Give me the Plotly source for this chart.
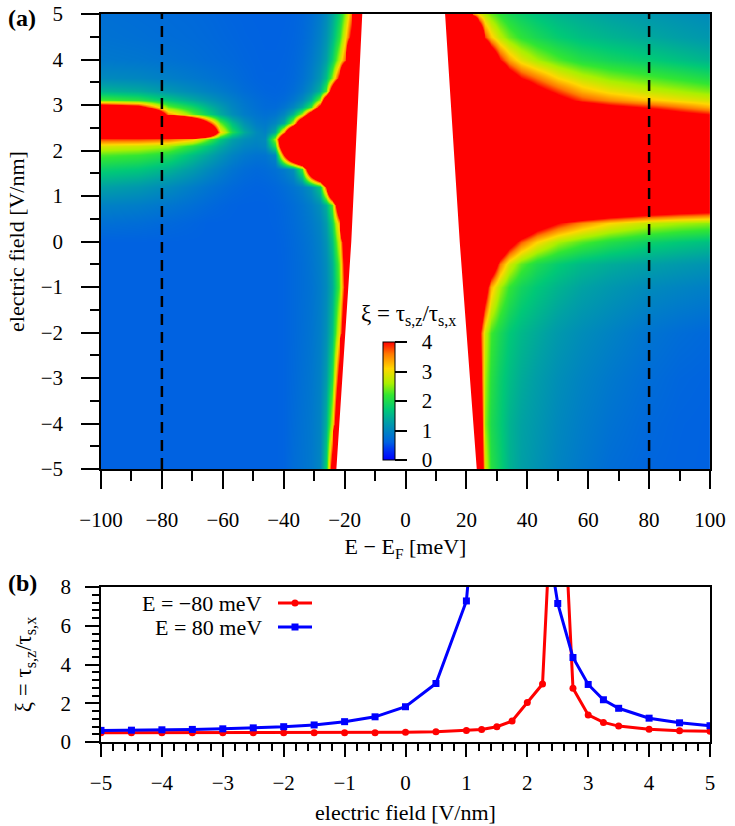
import plotly.graph_objects as go

# ---------------- panel (a): xi(E, field) map ----------------
field_rows = [-5, -4, -3, -2, -1, -0.5, 0, 0.4, 0.8, 1.2, 1.6, 1.9, 2.1, 2.25,
              2.4, 2.6, 2.8, 2.95, 3.1, 3.3, 3.6, 4.0, 4.5, 5.0]

energy_left = [-100, -88, -78, -70, -65, -61, -57, -53, -49, -46, -43, -40,
               -37, -34, -31, -28, -26, -24, -22, -20, -18, -16, -14, -12]
energy_right = [10, 12, 14, 16, 18, 20, 22, 24, 26, 28, 31, 34, 38, 43, 50,
                58, 67, 80, 90, 100]

R = 30.0  # xi far above the colour range (saturated red)

xi_left = [
    [0.6]*11 + [0.62, 0.72, 0.78, 0.85, 1.0, 1.8, 4.6] + [R]*6,             # -5
    [0.6]*11 + [0.62, 0.7, 0.77, 0.84, 0.98, 1.45, 2.8, 6] + [R]*5,         # -4
    [0.6]*11 + [0.62, 0.68, 0.75, 0.82, 0.95, 1.25, 2.0, 4.4] + [R]*5,      # -3
    [0.6]*11 + [0.62, 0.67, 0.73, 0.8, 0.92, 1.12, 1.6, 3.0, 5.5] + [R]*4,  # -2
    [0.6]*11 + [0.62, 0.67, 0.72, 0.78, 0.9, 1.05, 1.4, 2.3, 4.3] + [R]*4,  # -1
    [0.6]*11 + [0.62, 0.67, 0.72, 0.8, 0.92, 1.08, 1.45, 2.4, 4.6] + [R]*4, # -0.5
    [0.6]*11 + [0.63, 0.68, 0.74, 0.82, 0.95, 1.15, 1.6, 2.8, 5] + [R]*4,   # 0
    [0.75, 0.72, 0.67, 0.63] + [0.6]*6 +
    [0.61, 0.65, 0.7, 0.77, 0.86, 1.0, 1.25, 1.85, 3.4, 10] + [R]*4,        # 0.4
    [0.95, 0.9, 0.82, 0.74, 0.68, 0.64, 0.61, 0.6, 0.6, 0.6, 0.62, 0.66,
     0.72, 0.8, 0.92, 1.12, 1.45, 2.3, 5.5, 10] + [R]*4,                     # 0.8
    [1.3, 1.2, 1.05, 0.9, 0.8, 0.74, 0.68, 0.64, 0.62, 0.63, 0.66, 0.72,
     0.8, 0.92, 1.15, 1.7, 4.0, 8, 12] + [R]*5,                              # 1.2
    [1.8, 1.7, 1.5, 1.25, 1.05, 0.92, 0.8, 0.72, 0.68, 0.7, 0.76, 0.88,
     1.1, 2.2, 6, 9, 12, 15] + [R]*6,                                        # 1.6
    [2.3, 2.2, 2.0, 1.6, 1.35, 1.15, 0.97, 0.85, 0.79, 0.8, 1.0, 4.0,
     7, 9, 11, 14] + [R]*8,                                                  # 1.9
    [2.9, 2.8, 2.6, 2.1, 1.7, 1.4, 1.15, 0.99, 0.93, 1.0, 2.0, 6, 8, 10,
     12, 15] + [R]*8,                                                        # 2.1
    [3.8, 3.8, 3.7, 3.3, 2.4, 1.7, 1.3, 1.1, 1.0, 1.05, 2.6, 6.5, 8, 10,
     12, 15] + [R]*8,                                                        # 2.25
    [12, 12, 12, 10, 7, 3.2, 2.0, 1.4, 1.05, 0.95, 1.4, 3.5, 7, 9, 11,
     14] + [R]*8,                                                            # 2.4
    [12, 12, 11, 7, 4.2, 2.4, 1.6, 1.15, 0.9, 0.85, 1.0, 1.4, 2.8, 6, 9,
     12, 15] + [R]*7,                                                        # 2.6
    [10, 9, 3.5, 2.4, 1.8, 1.4, 1.1, 0.9, 0.8, 0.75, 0.8, 1.0, 1.5, 2.6,
     5, 8, 11, 14] + [R]*6,                                                  # 2.8
    [5, 4.5, 2.4, 1.9, 1.5, 1.25, 1.0, 0.85, 0.75, 0.7, 0.7, 0.8, 1.0, 1.4,
     2.2, 4.5, 7, 10, 13] + [R]*5,                                           # 2.95
    [2.3, 2.1, 1.7, 1.4, 1.2, 1.05, 0.92, 0.8, 0.72, 0.68, 0.66, 0.7, 0.82,
     1.05, 1.5, 2.6, 5.5, 8, 11] + [R]*5,                                    # 3.1
    [1.5, 1.4, 1.2, 1.05, 0.95, 0.88, 0.8, 0.72, 0.67, 0.64, 0.63, 0.65,
     0.72, 0.85, 1.1, 1.5, 2.3, 5, 8, 11] + [R]*4,                           # 3.3
    [1.05, 1.0, 0.92, 0.85, 0.8, 0.76, 0.72, 0.67, 0.63, 0.62, 0.62, 0.63,
     0.67, 0.76, 0.92, 1.2, 1.6, 2.5, 4.2, 8, 12] + [R]*3,                   # 3.6
    [0.85, 0.82, 0.78, 0.74, 0.71, 0.69, 0.67, 0.64, 0.62, 0.61, 0.61, 0.62,
     0.65, 0.72, 0.85, 1.05, 1.3, 1.8, 2.7, 3.7, 8, 12] + [R]*2,             # 4.0
    [0.78, 0.75, 0.72, 0.7, 0.68, 0.66, 0.64, 0.62, 0.61, 0.6, 0.6, 0.61,
     0.63, 0.68, 0.78, 0.95, 1.15, 1.5, 2.1, 3.0, 4.2, 9] + [R]*2,           # 4.5
    [0.75, 0.72, 0.7, 0.68, 0.66, 0.64, 0.62, 0.61, 0.6, 0.6, 0.6, 0.6,
     0.62, 0.66, 0.74, 0.88, 1.05, 1.35, 1.8, 2.5, 3.5, 8] + [R]*2,          # 5.0
]

xi_right = [
    [R]*7 + [6, 2.9, 2.1, 1.8, 1.5, 1.3, 1.15, 0.98, 0.85, 0.72, 0.64, 0.61, 0.6],     # -5
    [R]*7 + [5.5, 2.5, 2.0, 1.75, 1.5, 1.33, 1.2, 1.03, 0.9, 0.78, 0.67, 0.62, 0.6],   # -4
    [R]*6 + [12, 4.8, 2.6, 2.1, 1.8, 1.6, 1.42, 1.27, 1.1, 0.97, 0.85, 0.72, 0.65, 0.62],  # -3
    [R]*6 + [9, 4.3, 2.8, 2.25, 1.95, 1.72, 1.55, 1.4, 1.22, 1.08, 0.96, 0.8, 0.72, 0.67],  # -2
    [R]*5 + [20, 10, 6, 4.6, 3.3, 2.6, 2.2, 1.9, 1.7, 1.5, 1.33, 1.2, 1.05, 0.98, 0.92],   # -1
    [R]*5 + [25, 15, 9, 6.5, 5, 3.6, 2.85, 2.35, 2.0, 1.75, 1.55, 1.42, 1.3, 1.22, 1.15],  # -0.5
    [R]*5 + [25, 18, 12, 9, 7, 5.5, 4.5, 3.7, 3.1, 2.6, 2.3, 2.05, 1.82, 1.7, 1.6],        # 0
    [R]*5 + [30, 25, 20, 15, 12, 9, 7, 5.5, 4.6, 4.0, 3.5, 3.1, 2.75, 2.6, 2.5],          # 0.4
    [R]*8 + [25, 20, 15, 12, 10, 8, 7, 6.5, 6, 5.5, 5.2, 5.0],                           # 0.8
    [R]*10 + [25, 20, 15, 12, 10, 9, 8.5, 8, 7.5, 7.2],                                  # 1.2
    [R]*10 + [28, 24, 20, 16, 13, 11, 10, 9.5, 9, 8.5],                                  # 1.6
    [R]*10 + [28, 24, 20, 16, 13, 11, 10, 9.5, 9, 8.5],                                  # 1.9
    [R]*10 + [28, 24, 20, 16, 13, 11, 10, 9.5, 9, 8.5],                                  # 2.1
    [R]*10 + [28, 24, 20, 16, 13, 11, 10, 9.5, 9, 8.5],                                  # 2.25
    [R]*10 + [25, 20, 16, 13, 11, 9.5, 8.5, 7.5, 7, 6.6],                                # 2.4
    [R]*10 + [22, 18, 15, 12, 10, 8.5, 7.5, 6.5, 6, 5.6],                                # 2.6
    [R]*10 + [16, 13, 10, 8, 6.5, 5.5, 5.0, 4.6, 4.2, 3.95],                             # 2.8
    [R]*9 + [25, 18, 14, 10, 6.5, 5.2, 4.6, 4.2, 3.9, 3.6, 3.3],                         # 2.95
    [R]*8 + [20, 15, 11, 8.5, 6.5, 5.2, 4.3, 3.8, 3.5, 3.2, 3.0, 2.85],                  # 3.1
    [R]*8 + [15, 11, 8, 6.2, 5, 4.3, 3.8, 3.3, 3.0, 2.75, 2.6, 2.45],                    # 3.3
    [R]*6 + [25, 14, 10, 7.5, 5.8, 4.6, 4.0, 3.6, 3.1, 2.75, 2.5, 2.3, 2.15, 2.0],       # 3.6
    [R]*6 + [20, 12, 7, 5.2, 4.0, 3.4, 2.95, 2.6, 2.3, 2.05, 1.9, 1.75, 1.62, 1.5],      # 4.0
    [R]*5 + [20, 12, 6, 3.8, 3.2, 2.7, 2.4, 2.15, 1.95, 1.75, 1.6, 1.5, 1.38, 1.28, 1.2],  # 4.5
    [R]*5 + [8, 3.6, 3.0, 2.65, 2.4, 2.15, 1.95, 1.8, 1.65, 1.5, 1.4, 1.3, 1.2, 1.12, 1.05],  # 5.0
]

# band gap (no states): edges of the empty region
gap_field = [-5, 0, 5]
gap_left_edge = [-22.7, -17.8, -14.2]
gap_right_edge = [23.4, 17.8, 13.0]

cut_energies = [-80, 80]
cbar_ticks = [0, 1, 2, 3, 4]

# ---------------- panel (b): cuts at E = -80 and 80 meV ----------------
field_red = [-5, -4.5, -4, -3.5, -3, -2.5, -2, -1.5, -1, -0.5, 0, 0.5, 1, 1.25,
             1.5, 1.75, 2, 2.25, 2.5, 2.75, 3, 3.25, 3.5, 4, 4.5, 5]
xi_red = [0.48, 0.48, 0.48, 0.48, 0.48, 0.48, 0.48, 0.48, 0.48, 0.48, 0.5,
          0.53, 0.6, 0.65, 0.79, 1.08, 2.04, 2.99, 19, 2.77, 1.4, 1.01, 0.82,
          0.66, 0.58, 0.55]
field_blue = [-5, -4.5, -4, -3.5, -3, -2.5, -2, -1.5, -1, -0.5, 0, 0.5, 1, 1.5,
              2, 2.25, 2.5, 2.75, 3, 3.25, 3.5, 4, 4.5, 5]
xi_blue = [0.6, 0.61, 0.63, 0.65, 0.68, 0.73, 0.79, 0.88, 1.05, 1.3, 1.82,
           3.02, 7.28, 25, 40, 12, 7.15, 4.36, 2.97, 2.18, 1.74, 1.23, 0.99, 0.84]

legend_labels = ["E = \u221280 meV", "E = 80 meV"]

colorscale = [
    [0.0, "rgb(0,0,255)"],
    [0.1, "rgb(0,60,240)"],
    [0.15, "rgb(0,98,225)"],
    [0.225, "rgb(0,125,200)"],
    [0.325, "rgb(0,160,165)"],
    [0.425, "rgb(0,200,120)"],
    [0.55, "rgb(50,230,50)"],
    [0.65, "rgb(170,240,0)"],
    [0.775, "rgb(255,215,0)"],
    [0.9, "rgb(255,120,0)"],
    [1.0, "rgb(255,0,0)"],
]

FONT = "Liberation Serif, Times New Roman, Times, serif"
W, H = 735, 826
ML, MR, MT, MB = 101, 25, 14, 84
PW, PH = W - ML - MR, H - MT - MB


def px_x(px):
    return (px - ML) / PW


def px_y(py):
    return (H - MB - py) / PH


fig = go.Figure()
for ex, zz in ((energy_left, xi_left), (energy_right, xi_right)):
    fig.add_trace(go.Heatmap(x=ex, y=field_rows, z=zz, coloraxis="coloraxis",
                             zsmooth="best", hoverinfo="skip",
                             xaxis="x", yaxis="y"))

fig.add_trace(go.Scatter(x=gap_left_edge + gap_right_edge[::-1],
                         y=gap_field + gap_field[::-1], fill="toself",
                         fillcolor="white", mode="lines", line=dict(width=0),
                         hoverinfo="skip", showlegend=False,
                         xaxis="x", yaxis="y"))

fig.add_trace(go.Scatter(x=field_red, y=xi_red, mode="lines+markers",
                         line=dict(color="#ff0000", width=3),
                         marker=dict(symbol="circle", size=7, color="#ff0000"),
                         showlegend=False, xaxis="x2", yaxis="y2"))
fig.add_trace(go.Scatter(x=field_blue, y=xi_blue, mode="lines+markers",
                         line=dict(color="#0000ff", width=3),
                         marker=dict(symbol="square", size=7, color="#0000ff"),
                         showlegend=False, xaxis="x2", yaxis="y2"))

shapes = []
for e in cut_energies:
    shapes.append(dict(type="line", xref="x", yref="y domain", x0=e, x1=e,
                       y0=0, y1=1, line=dict(color="black", width=2.5,
                                             dash="11px,7px")))

# custom legend (text left of the line sample, as in the original)
leg_y = [px_y(603), px_y(627)]
leg_colors = ["#ff0000", "#0000ff"]
leg_syms = ["circle", "rect"]
annotations = []
for lab, yy, col, sym in zip(legend_labels, leg_y, leg_colors, leg_syms):
    annotations.append(dict(text=lab, xref="paper", yref="paper", x=px_x(264),
                            y=yy, xanchor="right", yanchor="middle",
                            showarrow=False,
                            font=dict(size=22, family=FONT)))
    shapes.append(dict(type="line", xref="paper", yref="paper", x0=px_x(278),
                       x1=px_x(312), y0=yy, y1=yy,
                       line=dict(color=col, width=3)))
    shapes.append(dict(type=sym, xref="paper", yref="paper",
                       xsizemode="pixel", ysizemode="pixel",
                       xanchor=px_x(295), yanchor=yy, x0=-3.5, x1=3.5,
                       y0=-3.5, y1=3.5, fillcolor=col, line=dict(width=0)))

annotations += [
    dict(text="<b>(a)</b>", xref="paper", yref="paper", x=px_x(22), y=px_y(18),
         showarrow=False, xanchor="center", yanchor="middle",
         font=dict(size=24, family=FONT)),
    dict(text="<b>(b)</b>", xref="paper", yref="paper", x=px_x(22), y=px_y(583),
         showarrow=False, xanchor="center", yanchor="middle",
         font=dict(size=24, family=FONT)),
    dict(text="\u03be = \u03c4<sub>s,z</sub>/\u03c4<sub>s,x</sub>", xref="paper",
         yref="paper", x=px_x(408), y=px_y(315), showarrow=False,
         xanchor="center", yanchor="middle", font=dict(size=23, family=FONT)),
]

tickfont = dict(family=FONT, size=21, color="black")
titlefont = dict(family=FONT, size=22, color="black")
axis_common = dict(showline=True, linecolor="black", linewidth=1.5,
                   mirror=True, showgrid=False, zeroline=False,
                   ticks="outside", tickcolor="black", tickwidth=1.5,
                   tickfont=tickfont, automargin=False)

top_bottom = px_y(469)
bot_top = px_y(587)

fig.update_layout(
    width=W, height=H,
    margin=dict(l=ML, r=MR, t=MT, b=MB, autoexpand=False),
    paper_bgcolor="white", plot_bgcolor="white",
    font=dict(family=FONT, size=21, color="black"),
    showlegend=False,
    xaxis=dict(domain=[0, 1], anchor="y", range=[-100, 100], dtick=20,
               tick0=0, ticklen=18, ticklabelstandoff=13,
               minor=dict(dtick=10, ticklen=10, ticks="outside",
                          tickcolor="black", tickwidth=1.5),
               title=dict(text="E \u2212 E<sub>F</sub> [meV]", standoff=8,
                          font=titlefont),
               **axis_common),
    yaxis=dict(domain=[top_bottom, 1], anchor="x", range=[-5, 5], dtick=1,
               ticklen=18, ticklabelstandoff=14,
               minor=dict(dtick=0.5, ticklen=9, ticks="outside",
                          tickcolor="black", tickwidth=1.5),
               title=dict(text="electric field [V/nm]", standoff=10,
                          font=titlefont),
               **axis_common),
    xaxis2=dict(domain=[0, 1], anchor="y2", range=[-5, 5], dtick=1,
                ticklen=13, ticklabelstandoff=8,
                minor=dict(dtick=0.2, ticklen=7, ticks="outside",
                           tickcolor="black", tickwidth=1.5),
                title=dict(text="electric field [V/nm]", standoff=11,
                           font=titlefont),
                **axis_common),
    yaxis2=dict(domain=[0, bot_top], anchor="x2", range=[0, 8], dtick=2,
                ticklen=14, ticklabelstandoff=10,
                minor=dict(dtick=0.4, ticklen=7, ticks="outside",
                           tickcolor="black", tickwidth=1.5),
                title=dict(text="\u03be = \u03c4<sub>s,z</sub>/\u03c4<sub>s,x</sub>",
                           standoff=22, font=dict(family=FONT, size=23,
                                                  color="black")),
                **axis_common),
    coloraxis=dict(cmin=0, cmax=4, colorscale=colorscale,
                   colorbar=dict(x=px_x(383), xanchor="left", xref="paper",
                                 y=px_y(460), yanchor="bottom", yref="paper",
                                 len=118, lenmode="pixels", thickness=12,
                                 xpad=0, ypad=0, outlinecolor="black",
                                 outlinewidth=1, tickvals=cbar_ticks,
                                 ticktext=["\u00a0\u00a0" + str(v)
                                           for v in cbar_ticks],
                                 ticks="outside", ticklen=12, tickwidth=1.5,
                                 tickcolor="black", bgcolor="rgba(0,0,0,0)",
                                 tickfont=dict(size=21, family=FONT,
                                               color="black"))),
    shapes=shapes,
    annotations=annotations,
)

fig.write_html("out.html")
